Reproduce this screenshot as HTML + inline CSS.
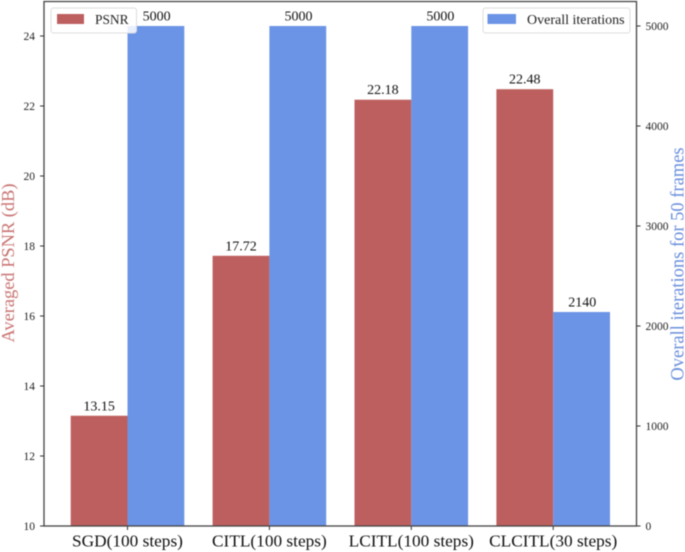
<!DOCTYPE html>
<html lang="en">
<head>
<meta charset="utf-8">
<title>PSNR and overall iterations</title>
<style>
html,body{margin:0;padding:0;background:#fff;}
body{width:685px;height:552px;overflow:hidden;}
svg{display:block;font-family:"Liberation Serif",serif;filter:blur(0.45px);}
</style>
</head>
<body>
<svg id="chart" width="685" height="552" viewBox="0 0 685 552" xmlns="http://www.w3.org/2000/svg"></svg>
<script>
const categories = ["SGD(100 steps)", "CITL(100 steps)", "LCITL(100 steps)", "CLCITL(30 steps)"];
const psnrValues = [13.15, 17.72, 22.18, 22.48];
const iterationValues = [5000, 5000, 5000, 2140];
const psnrLabels = ["13.15", "17.72", "22.18", "22.48"];
const iterationLabels = ["5000", "5000", "5000", "2140"];
const leftTicks = [10, 12, 14, 16, 18, 20, 22, 24];
const rightTicks = [0, 1000, 2000, 3000, 4000, 5000];

const svg = document.getElementById('chart');
const NS = 'http://www.w3.org/2000/svg';
const plot = {left: 44, right: 636.5, top: 1.5, bottom: 526};
const yLeft = v => 526 - (v - 10) * 35;
const yRight = v => 526 - v * 0.1;
const xCenter = i => 127.5 + i * 141.9;
const barW = 56.8;

function add(tag, attrs, text) {
  const el = document.createElementNS(NS, tag);
  for (const k in attrs) el.setAttribute(k, attrs[k]);
  if (text !== undefined) el.textContent = text;
  svg.appendChild(el);
  return el;
}

categories.forEach((c, i) => {
  const x = xCenter(i);
  const r = add('rect', {x: x - barW, y: yLeft(psnrValues[i]), width: barW, height: 526 - yLeft(psnrValues[i]), fill: '#bd5f5e'});
  
  
  const b = add('rect', {x: x, y: yRight(iterationValues[i]), width: barW, height: 526 - yRight(iterationValues[i]), fill: '#6b94e6'});
  
  
  const rl = add('text', {x: x - barW / 2, y: yLeft(psnrValues[i]) - 5.5, 'text-anchor': 'middle', 'font-size': 14, fill: '#111'}, psnrLabels[i]);
  
  
  const bl = add('text', {x: x + barW / 2 + 0.7, y: yRight(iterationValues[i]) - 5.5, 'text-anchor': 'middle', 'font-size': 14, fill: '#111'}, iterationLabels[i]);
  
  
  const tick = add('line', {x1: x, x2: x, y1: 526, y2: 530, stroke: '#333', 'stroke-width': 1});
  
  
  const cat = add('text', {x: x, y: 546.5, 'text-anchor': 'middle', 'font-size': 17.3, fill: '#111'}, c);
  
  
});

const frame = add('rect', {x: plot.left, y: plot.top, width: plot.right - plot.left, height: plot.bottom - plot.top, fill: 'none', stroke: '#444', 'stroke-width': 1.3});



leftTicks.forEach(v => {
  const t = add('line', {x1: 40, x2: plot.left, y1: yLeft(v), y2: yLeft(v), stroke: '#333', 'stroke-width': 1});
  
  
  const l = add('text', {x: 35, y: yLeft(v) + 4, 'text-anchor': 'end', 'font-size': 11.5, fill: '#222'}, String(v));
  
  
});

rightTicks.forEach(v => {
  const t = add('line', {x1: plot.right, x2: plot.right + 4, y1: yRight(v), y2: yRight(v), stroke: '#333', 'stroke-width': 1});
  
  
  const l = add('text', {x: 645.5, y: yRight(v) + 4, 'text-anchor': 'start', 'font-size': 11.5, fill: '#222'}, String(v));
  
  
});

const yl = add('text', {x: 0, y: 0, transform: 'translate(14 263) rotate(-90)', 'text-anchor': 'middle', 'font-size': 18.4, fill: '#c87472'}, 'Averaged PSNR (dB)');


const yr = add('text', {x: 0, y: 0, transform: 'translate(683.5 264) rotate(-90)', 'text-anchor': 'middle', 'font-size': 18.5, fill: '#6a8fdc'}, 'Overall iterations for 50 frames');



const lg1 = add('rect', {x: 51, y: 8, width: 85.5, height: 25, rx: 2.5, fill: '#fff', 'fill-opacity': 0.85, stroke: '#ddd', 'stroke-width': 1});


const sw1 = add('rect', {x: 57, y: 14, width: 27, height: 10, fill: '#bd5f5e'});


const lt1 = add('text', {x: 95, y: 24, 'font-size': 13.4, fill: '#222'}, 'PSNR');



const lg2 = add('rect', {x: 483, y: 8, width: 147, height: 25, rx: 2.5, fill: '#fff', 'fill-opacity': 0.85, stroke: '#ddd', 'stroke-width': 1});


const sw2 = add('rect', {x: 487.5, y: 14, width: 28.5, height: 10, fill: '#6b94e6'});


const lt2 = add('text', {x: 527, y: 24, 'font-size': 14, fill: '#222'}, 'Overall iterations');


</script>
</body>
</html>
